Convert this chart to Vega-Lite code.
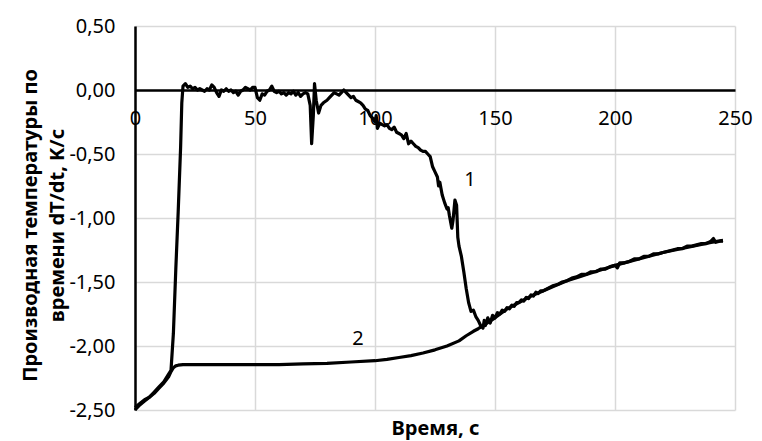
{
  "$schema": "https://vega.github.io/schema/vega-lite/v6.json",
  "width": 600,
  "height": 384,
  "autosize": {"type": "none"},
  "padding": {"left": 135, "top": 26, "right": 27, "bottom": 31},
  "background": "white",
  "config": {"view": {"stroke": null}, "font": "Noto Sans"},
  "datasets": {
    "curves": [
      {"s":"1","t":0,"v":-2.48},{"s":"1","t":2,"v":-2.45},{"s":"1","t":4,"v":-2.42},{"s":"1","t":6,"v":-2.4},{"s":"1","t":8,"v":-2.36},{"s":"1","t":10,"v":-2.32},{"s":"1","t":12,"v":-2.28},{"s":"1","t":14,"v":-2.22},{"s":"1","t":15,"v":-2.19},{"s":"1","t":16,"v":-1.9},{"s":"1","t":17,"v":-1.4},{"s":"1","t":18,"v":-0.95},{"s":"1","t":19,"v":-0.45},{"s":"1","t":19.5,"v":-0.1},{"s":"1","t":20,"v":0.03},{"s":"1","t":21,"v":0.05},{"s":"1","t":22,"v":0.02},{"s":"1","t":23,"v":0.03},{"s":"1","t":24,"v":0.01},{"s":"1","t":25,"v":0.02},{"s":"1","t":26,"v":0.0},{"s":"1","t":27,"v":0.01},{"s":"1","t":28,"v":0.0},{"s":"1","t":29,"v":-0.01},{"s":"1","t":30,"v":0.01},{"s":"1","t":31,"v":0.0},{"s":"1","t":32,"v":0.04},{"s":"1","t":33,"v":0.02},{"s":"1","t":34,"v":-0.02},{"s":"1","t":35,"v":-0.05},{"s":"1","t":36,"v":0.0},{"s":"1","t":37,"v":-0.01},{"s":"1","t":38,"v":0.01},{"s":"1","t":39,"v":-0.01},{"s":"1","t":40,"v":0.0},{"s":"1","t":41,"v":-0.02},{"s":"1","t":42,"v":-0.01},{"s":"1","t":43,"v":-0.04},{"s":"1","t":44,"v":-0.01},{"s":"1","t":45,"v":0.0},{"s":"1","t":46,"v":0.02},{"s":"1","t":47,"v":0.01},{"s":"1","t":48,"v":0.0},{"s":"1","t":49,"v":0.02},{"s":"1","t":50,"v":0.02},{"s":"1","t":51,"v":-0.06},{"s":"1","t":52,"v":-0.08},{"s":"1","t":53,"v":-0.03},{"s":"1","t":54,"v":-0.04},{"s":"1","t":55,"v":-0.01},{"s":"1","t":56,"v":0.0},{"s":"1","t":57,"v":0.03},{"s":"1","t":58,"v":-0.01},{"s":"1","t":59,"v":-0.02},{"s":"1","t":60,"v":-0.01},{"s":"1","t":61,"v":-0.03},{"s":"1","t":62,"v":-0.02},{"s":"1","t":63,"v":-0.04},{"s":"1","t":64,"v":-0.02},{"s":"1","t":65,"v":-0.03},{"s":"1","t":66,"v":-0.01},{"s":"1","t":67,"v":-0.04},{"s":"1","t":68,"v":-0.02},{"s":"1","t":69,"v":-0.05},{"s":"1","t":70,"v":-0.03},{"s":"1","t":71,"v":-0.02},{"s":"1","t":72,"v":-0.03},{"s":"1","t":73,"v":-0.12},{"s":"1","t":73.6,"v":-0.42},{"s":"1","t":74.3,"v":-0.2},{"s":"1","t":74.8,"v":0.05},{"s":"1","t":75.5,"v":-0.08},{"s":"1","t":76.5,"v":-0.18},{"s":"1","t":77.5,"v":-0.12},{"s":"1","t":78.5,"v":-0.1},{"s":"1","t":80,"v":-0.08},{"s":"1","t":81,"v":-0.06},{"s":"1","t":82,"v":-0.04},{"s":"1","t":83,"v":-0.02},{"s":"1","t":84,"v":-0.03},{"s":"1","t":85,"v":-0.04},{"s":"1","t":86,"v":-0.02},{"s":"1","t":87,"v":0.0},{"s":"1","t":88,"v":-0.02},{"s":"1","t":89,"v":-0.04},{"s":"1","t":90,"v":-0.06},{"s":"1","t":91,"v":-0.05},{"s":"1","t":92,"v":-0.08},{"s":"1","t":93,"v":-0.09},{"s":"1","t":94,"v":-0.1},{"s":"1","t":95,"v":-0.12},{"s":"1","t":96,"v":-0.15},{"s":"1","t":97,"v":-0.16},{"s":"1","t":98,"v":-0.2},{"s":"1","t":99,"v":-0.22},{"s":"1","t":100,"v":-0.25},{"s":"1","t":100.5,"v":-0.2},{"s":"1","t":101,"v":-0.3},{"s":"1","t":102,"v":-0.26},{"s":"1","t":103,"v":-0.27},{"s":"1","t":104,"v":-0.28},{"s":"1","t":105,"v":-0.27},{"s":"1","t":106,"v":-0.3},{"s":"1","t":107,"v":-0.31},{"s":"1","t":108,"v":-0.29},{"s":"1","t":109,"v":-0.33},{"s":"1","t":110,"v":-0.34},{"s":"1","t":111,"v":-0.35},{"s":"1","t":112,"v":-0.38},{"s":"1","t":113,"v":-0.34},{"s":"1","t":114,"v":-0.42},{"s":"1","t":115,"v":-0.4},{"s":"1","t":116,"v":-0.42},{"s":"1","t":117,"v":-0.44},{"s":"1","t":118,"v":-0.45},{"s":"1","t":119,"v":-0.47},{"s":"1","t":120,"v":-0.48},{"s":"1","t":121,"v":-0.48},{"s":"1","t":122,"v":-0.5},{"s":"1","t":123,"v":-0.52},{"s":"1","t":124,"v":-0.6},{"s":"1","t":125,"v":-0.64},{"s":"1","t":126,"v":-0.68},{"s":"1","t":126.5,"v":-0.75},{"s":"1","t":127,"v":-0.72},{"s":"1","t":128,"v":-0.82},{"s":"1","t":129,"v":-0.88},{"s":"1","t":130,"v":-0.93},{"s":"1","t":130.5,"v":-0.92},{"s":"1","t":131,"v":-0.98},{"s":"1","t":132,"v":-1.08},{"s":"1","t":132.5,"v":-1.02},{"s":"1","t":133.3,"v":-0.86},{"s":"1","t":134,"v":-0.9},{"s":"1","t":134.5,"v":-1.15},{"s":"1","t":135,"v":-1.22},{"s":"1","t":136,"v":-1.3},{"s":"1","t":137,"v":-1.42},{"s":"1","t":138,"v":-1.55},{"s":"1","t":139,"v":-1.66},{"s":"1","t":140,"v":-1.73},{"s":"1","t":141,"v":-1.72},{"s":"1","t":142,"v":-1.77},{"s":"1","t":143,"v":-1.8},{"s":"1","t":144,"v":-1.84},{"s":"1","t":145,"v":-1.86},{"s":"1","t":145.5,"v":-1.8},{"s":"1","t":146,"v":-1.84},{"s":"1","t":147,"v":-1.78},{"s":"1","t":148,"v":-1.82},{"s":"1","t":149,"v":-1.76},{"s":"1","t":150,"v":-1.78},{"s":"1","t":151,"v":-1.74},{"s":"1","t":152,"v":-1.75},{"s":"1","t":153,"v":-1.72},{"s":"1","t":154,"v":-1.73},{"s":"1","t":155,"v":-1.7},{"s":"1","t":156,"v":-1.71},{"s":"1","t":157,"v":-1.68},{"s":"1","t":158,"v":-1.69},{"s":"1","t":159,"v":-1.66},{"s":"1","t":160,"v":-1.66},{"s":"1","t":161,"v":-1.64},{"s":"1","t":162,"v":-1.65},{"s":"1","t":163,"v":-1.62},{"s":"1","t":164,"v":-1.63},{"s":"1","t":165,"v":-1.6},{"s":"1","t":166,"v":-1.61},{"s":"1","t":167,"v":-1.58},{"s":"1","t":168,"v":-1.59},{"s":"1","t":169,"v":-1.57},{"s":"1","t":170,"v":-1.57},{"s":"1","t":172,"v":-1.55},{"s":"1","t":174,"v":-1.53},{"s":"1","t":176,"v":-1.52},{"s":"1","t":178,"v":-1.5},{"s":"1","t":180,"v":-1.49},{"s":"1","t":182,"v":-1.47},{"s":"1","t":184,"v":-1.46},{"s":"1","t":186,"v":-1.44},{"s":"1","t":188,"v":-1.44},{"s":"1","t":190,"v":-1.42},{"s":"1","t":192,"v":-1.42},{"s":"1","t":194,"v":-1.4},{"s":"1","t":196,"v":-1.4},{"s":"1","t":198,"v":-1.38},{"s":"1","t":200,"v":-1.37},{"s":"1","t":201,"v":-1.39},{"s":"1","t":202,"v":-1.35},{"s":"1","t":204,"v":-1.35},{"s":"1","t":206,"v":-1.34},{"s":"1","t":208,"v":-1.32},{"s":"1","t":210,"v":-1.32},{"s":"1","t":212,"v":-1.3},{"s":"1","t":214,"v":-1.3},{"s":"1","t":216,"v":-1.28},{"s":"1","t":218,"v":-1.28},{"s":"1","t":220,"v":-1.27},{"s":"1","t":222,"v":-1.26},{"s":"1","t":224,"v":-1.25},{"s":"1","t":226,"v":-1.24},{"s":"1","t":228,"v":-1.24},{"s":"1","t":230,"v":-1.22},{"s":"1","t":232,"v":-1.22},{"s":"1","t":234,"v":-1.21},{"s":"1","t":236,"v":-1.2},{"s":"1","t":238,"v":-1.2},{"s":"1","t":240,"v":-1.18},{"s":"1","t":241,"v":-1.16},{"s":"1","t":242,"v":-1.19},{"s":"1","t":244,"v":-1.18},{"s":"1","t":245,"v":-1.18},
      {"s":"2","t":0,"v":-2.5},{"s":"2","t":2,"v":-2.46},{"s":"2","t":4,"v":-2.43},{"s":"2","t":6,"v":-2.4},{"s":"2","t":8,"v":-2.37},{"s":"2","t":10,"v":-2.33},{"s":"2","t":12,"v":-2.29},{"s":"2","t":14,"v":-2.24},{"s":"2","t":15,"v":-2.2},{"s":"2","t":16,"v":-2.17},{"s":"2","t":17,"v":-2.155},{"s":"2","t":18,"v":-2.15},{"s":"2","t":20,"v":-2.145},{"s":"2","t":30,"v":-2.145},{"s":"2","t":40,"v":-2.145},{"s":"2","t":50,"v":-2.145},{"s":"2","t":60,"v":-2.145},{"s":"2","t":70,"v":-2.14},{"s":"2","t":80,"v":-2.135},{"s":"2","t":90,"v":-2.125},{"s":"2","t":100,"v":-2.115},{"s":"2","t":105,"v":-2.105},{"s":"2","t":110,"v":-2.09},{"s":"2","t":115,"v":-2.075},{"s":"2","t":120,"v":-2.055},{"s":"2","t":125,"v":-2.03},{"s":"2","t":130,"v":-2.0},{"s":"2","t":135,"v":-1.96},{"s":"2","t":138,"v":-1.92},{"s":"2","t":141,"v":-1.885},{"s":"2","t":143,"v":-1.865},{"s":"2","t":146,"v":-1.83},{"s":"2","t":150,"v":-1.78},{"s":"2","t":155,"v":-1.71},{"s":"2","t":160,"v":-1.66},{"s":"2","t":165,"v":-1.61},{"s":"2","t":170,"v":-1.57},{"s":"2","t":175,"v":-1.53},{"s":"2","t":180,"v":-1.49},{"s":"2","t":185,"v":-1.46},{"s":"2","t":190,"v":-1.43},{"s":"2","t":195,"v":-1.4},{"s":"2","t":200,"v":-1.37},{"s":"2","t":205,"v":-1.345},{"s":"2","t":210,"v":-1.32},{"s":"2","t":215,"v":-1.295},{"s":"2","t":220,"v":-1.27},{"s":"2","t":225,"v":-1.25},{"s":"2","t":230,"v":-1.23},{"s":"2","t":235,"v":-1.21},{"s":"2","t":240,"v":-1.19},{"s":"2","t":245,"v":-1.175}
    ],
    "labels": [
      {"label":"1","t":139.6,"v":-0.7},
      {"label":"2","t":92.9,"v":-1.945}
    ]
  },
  "layer": [
    {
      "data": {"name": "curves"},
      "mark": {"type": "line", "color": "black", "strokeWidth": 3.2, "strokeJoin": "round"},
      "encoding": {
        "x": {
          "field": "t", "type": "quantitative",
          "scale": {"domain": [0, 250], "nice": false},
          "axis": {
            "values": [0, 50, 100, 150, 200, 250],
            "offset": -320,
            "ticks": false,
            "domainColor": "black", "domainWidth": 2.5,
            "grid": true, "gridColor": "#d9d9d9", "gridWidth": 1.5,
            "labelFontSize": 20, "labelColor": "#000", "labelPadding": 18,
            "labelFlush": false, "labelOverlap": false,
            "title": "Время, с", "titleFontSize": 20, "titleFontWeight": "bold", "titleColor": "#000",
            "titleY": 338, "titleBaseline": "middle"
          }
        },
        "y": {
          "field": "v", "type": "quantitative",
          "scale": {"domain": [-2.5, 0.5], "nice": false, "zero": false},
          "axis": {
            "values": [-2.5, -2, -1.5, -1, -0.5, 0, 0.5],
            "ticks": false,
            "domainColor": "black", "domainWidth": 2.5,
            "grid": true, "gridColor": "#d9d9d9", "gridWidth": 1.5,
            "labelFontSize": 20, "labelColor": "#000", "labelPadding": 20,
            "labelExpr": "replace(replace(format(datum.value, '.2f'), '.', ','), '−', '-')",
            "title": ["Производная температуры по", "времени dT/dt, K/с"],
            "titleFontSize": 20, "titleFontWeight": "bold", "titleColor": "#000",
            "titleLineHeight": 27, "titleX": -99, "titleY": 199,
            "titleBaseline": "alphabetic", "titleAlign": "center", "titleAngle": -90
          }
        },
        "detail": {"field": "s"}
      }
    },
    {
      "data": {"name": "labels"},
      "mark": {"type": "text", "fontSize": 20, "color": "black"},
      "encoding": {
        "x": {"field": "t", "type": "quantitative"},
        "y": {"field": "v", "type": "quantitative"},
        "text": {"field": "label"}
      }
    }
  ]
}
